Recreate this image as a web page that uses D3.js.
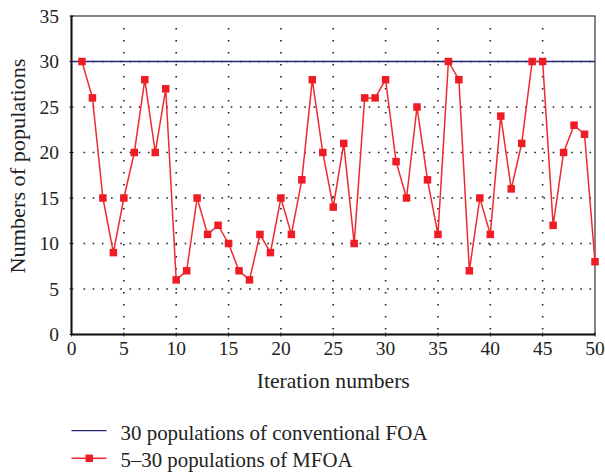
<!DOCTYPE html>
<html><head><meta charset="utf-8">
<script src="https://cdn.jsdelivr.net/npm/d3@7"></script>
</head><body style="margin:0">
<svg id="c" width="605" height="475"></svg>
<script>
const iterations = d3.range(1, 51);
const mfoaValues = [30,26,15,9,15,20,28,20,27,6, 7,15,11,12,10,7,6,11,9,15, 11,17,28,20,14,21,10,26,26,28, 19,15,25,17,11,30,28,7,15,11, 24,16,21,30,30,12,20,23,22,8];
const foaValue = 30;
const xTicks = [0,5,10,15,20,25,30,35,40,45,50];
const yTicks = [0,5,10,15,20,25,30,35];
const seriesNames = ["30 populations of conventional FOA", "5–30 populations of MFOA"];
const xTitle = "Iteration numbers", yTitle = "Numbers of populations";

const FONT = "Liberation Serif";
const svg = d3.select("#c");
const L = 71.5, R = 595, T = 16, B = 334.5;
const x = d3.scaleLinear().domain([0,50]).range([L,R]);
const y = d3.scaleLinear().domain([0,35]).range([B,T]);

// grid
const g = svg.append("g");
g.selectAll(".vg").data(xTicks.filter(d=>d>0&&d<50)).join("line")
  .attr("x1",d=>x(d)).attr("x2",d=>x(d)).attr("y1",T+12).attr("y2",B)
  .attr("stroke","#222").attr("stroke-width",1.6).attr("stroke-dasharray","1.6,10.4");
g.selectAll(".hg").data(yTicks.filter(d=>d>0&&d<35)).join("line")
  .attr("x1",L+12).attr("x2",R).attr("y1",d=>y(d)).attr("y2",d=>y(d))
  .attr("stroke","#222").attr("stroke-width",1.6).attr("stroke-dasharray","1.6,7.6");

// frame
svg.append("rect").attr("x",L).attr("y",T).attr("width",R-L).attr("height",B-T)
  .attr("fill","none").attr("stroke","#333").attr("stroke-width",1.2);
svg.append("line").attr("x1",L).attr("x2",L).attr("y1",T).attr("y2",B).attr("stroke","#111").attr("stroke-width",2);
svg.append("line").attr("x1",L).attr("x2",R).attr("y1",B).attr("y2",B).attr("stroke","#111").attr("stroke-width",2);

// tick marks
svg.selectAll(".xt").data(xTicks).join("line")
  .attr("x1",d=>x(d)).attr("x2",d=>x(d)).attr("y1",B-2).attr("y2",B+2).attr("stroke","#111");
svg.selectAll(".yt").data(yTicks).join("line")
  .attr("x1",L-2).attr("x2",L+2).attr("y1",d=>y(d)).attr("y2",d=>y(d)).attr("stroke","#111");

// tick labels
svg.selectAll(".xl").data(xTicks).join("text")
  .attr("x",d=>x(d)).attr("y",355).attr("text-anchor","middle")
  .attr("font-family",FONT).attr("font-size",19.5).attr("fill","#222").text(d=>d);
svg.selectAll(".yl").data(yTicks).join("text")
  .attr("x",59).attr("y",d=>y(d)+6.5).attr("text-anchor","end")
  .attr("font-family",FONT).attr("font-size",19.5).attr("fill","#222").text(d=>d);

// titles
svg.append("text").attr("x",(L+R)/2).attr("y",388).attr("text-anchor","middle")
  .attr("font-family",FONT).attr("font-size",21).attr("fill","#222")
  .attr("textLength",153).attr("lengthAdjust","spacingAndGlyphs").text(xTitle);
svg.append("text").attr("transform","translate(25,166) rotate(-90)").attr("text-anchor","middle")
  .attr("font-family",FONT).attr("font-size",20).attr("fill","#222")
  .attr("textLength",215).attr("lengthAdjust","spacingAndGlyphs").text(yTitle);

// FOA line
svg.append("line").attr("x1",L).attr("x2",R).attr("y1",y(foaValue)).attr("y2",y(foaValue))
  .attr("stroke","#25257a").attr("stroke-width",1.3);

// MFOA series
const data = iterations.map((it,i)=>({it, v:mfoaValues[i]}));
svg.append("path").datum(data).attr("fill","none").attr("stroke","#ee2a2f").attr("stroke-width",1.5)
  .attr("d",d3.line().x(d=>x(d.it)).y(d=>y(d.v)));
const ms = 7.5;
svg.selectAll(".m").data(data).join("rect")
  .attr("x",d=>x(d.it)-ms/2).attr("y",d=>y(d.v)-ms/2).attr("width",ms).attr("height",ms)
  .attr("fill","#ee1c24");

// legend
svg.append("line").attr("x1",71.5).attr("x2",106.5).attr("y1",430.7).attr("y2",430.7).attr("stroke","#25257a").attr("stroke-width",1.3);
svg.append("text").attr("x",120.5).attr("y",440).attr("font-family",FONT).attr("font-size",21).attr("fill","#222")
  .attr("textLength",307).attr("lengthAdjust","spacingAndGlyphs").text(seriesNames[0]);
svg.append("line").attr("x1",71.5).attr("x2",106.5).attr("y1",458.3).attr("y2",458.3).attr("stroke","#ee2a2f").attr("stroke-width",1.5);
svg.append("rect").attr("x",89.3-ms/2).attr("y",458.3-ms/2).attr("width",ms).attr("height",ms).attr("fill","#ee1c24");
svg.append("text").attr("x",120.5).attr("y",466.7).attr("font-family",FONT).attr("font-size",21).attr("fill","#222")
  .attr("textLength",232).attr("lengthAdjust","spacingAndGlyphs").text(seriesNames[1]);
</script></body></html>
